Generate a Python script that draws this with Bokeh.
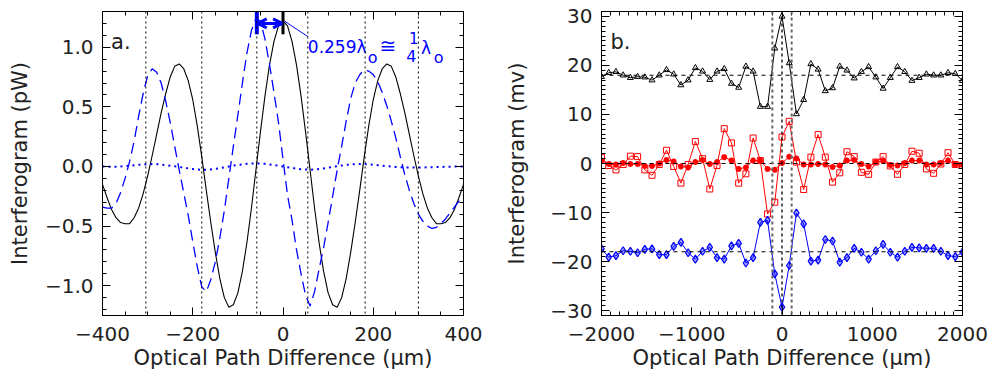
from bokeh.plotting import figure
from bokeh.layouts import row
from bokeh.models import FixedTicker, LinearAxis, Arrow, OpenHead, Span, CustomLabelingPolicy
from bokeh.core.properties import value
from bokeh.embed import file_html
from bokeh.resources import INLINE
import numpy as np

# ---------------- panel a ----------------
opd_a = list(range(-400, 401, 10))
ifg_a_black = [-0.15, -0.26, -0.36, -0.43, -0.47, -0.48, -0.48, -0.43, -0.35, -0.23,
               -0.08, 0.09, 0.27, 0.45, 0.61, 0.75, 0.84, 0.86, 0.82, 0.72,
               0.56, 0.34, 0.08, -0.20, -0.47, -0.72, -0.94, -1.10, -1.18, -1.16,
               -1.06, -0.88, -0.64, -0.35, -0.03, 0.29, 0.59, 0.85, 1.05, 1.18,
               1.22,
               1.18, 1.05, 0.85, 0.59, 0.29, -0.03, -0.35, -0.64, -0.88, -1.06,
               -1.16, -1.18, -1.10, -0.94, -0.72, -0.47, -0.20, 0.08, 0.34, 0.56,
               0.72, 0.82, 0.86, 0.84, 0.75, 0.61, 0.45, 0.27, 0.09, -0.08,
               -0.23, -0.35, -0.43, -0.48, -0.48, -0.47, -0.43, -0.36, -0.26, -0.15]
ifg_a_dashed = [-0.34, -0.35, -0.35, -0.31, -0.22, -0.10, 0.04, 0.21, 0.42, 0.61,
                0.76, 0.82, 0.79, 0.70, 0.55, 0.37, 0.17, -0.03, -0.22, -0.41,
                -0.63, -0.84, -1.01, -1.05, -0.95, -0.80, -0.60, -0.37, -0.10, 0.17,
                0.43, 0.70, 0.95, 1.14, 1.24, 1.22, 1.07, 0.86, 0.62, 0.37,
                0.06,
                -0.24, -0.45, -0.70, -0.90, -1.08, -1.17, -1.05, -0.86, -0.68, -0.47,
                -0.25, -0.03, 0.17, 0.38, 0.57, 0.70, 0.77, 0.81, 0.80, 0.77,
                0.71, 0.62, 0.51, 0.38, 0.24, 0.08, -0.07, -0.20, -0.31, -0.40,
                -0.46, -0.50, -0.52, -0.51, -0.48, -0.44, -0.39, -0.34, -0.29, -0.24]
ifg_a_dotted = [0.0, -0.002, -0.003, -0.002, 0.0, 0.003, 0.006, 0.010, 0.014, 0.017,
                0.019, 0.020, 0.019, 0.016, 0.012, 0.007, 0.002, -0.004, -0.010, -0.016,
                -0.021, -0.026, -0.028, -0.028, -0.025, -0.020, -0.014, -0.007, 0.0, 0.007,
                0.013, 0.018, 0.022, 0.025, 0.026, 0.025, 0.022, 0.017, 0.012, 0.006,
                0.0,
                -0.006, -0.012, -0.018, -0.023, -0.026, -0.027, -0.025, -0.021, -0.016, -0.010,
                -0.004, 0.002, 0.008, 0.013, 0.017, 0.019, 0.020, 0.020, 0.018, 0.015,
                0.011, 0.007, 0.003, -0.001, -0.004, -0.006, -0.008, -0.009, -0.009, -0.009,
                -0.008, -0.007, -0.006, -0.005, -0.004, -0.003, -0.002, -0.001, 0.0, 0.0]
crossings_a = [-304, -180, -58, 55, 182, 300]
quarter_wave_a = -58          # 0.259 lambda_o
xticks_a = [-400, -200, 0, 200, 400]
xlabels_a = ["\u2212400", "\u2212200", "0", "200", "400"]
yticks_a = [-1.0, -0.5, 0.0, 0.5, 1.0]
ylabels_a = ["\u22121.0", "\u22120.5", "0.0", "0.5", "1.0"]

# ---------------- panel b ----------------
opd_b = list(range(-2000, 2001, 80))
ifg_b_black = [17.7, 18.5, 18.7, 18.0, 17.5, 17.7, 17.6, 17.0, 18.0, 19.1,
               18.2, 16.0, 17.0, 19.5, 18.8, 17.1, 18.8, 19.3, 16.3, 15.5,
               19.8, 18.8, 11.6, 11.6, 23.5, 30.0, 20.5, 10.1, 13.0, 20.3,
               19.2, 14.8, 15.4, 19.8, 19.0, 17.4, 18.7, 19.7, 17.6, 15.3,
               17.5, 19.7, 18.7, 16.9, 17.5, 18.2, 18.0, 18.0, 18.5, 18.3, 16.9]
ifg_b_red_sq = [1.2, -0.4, -1.3, -0.2, 1.5, 1.4, -1.3, -2.4, -0.2, 2.7,
                -0.6, -4.0, -0.2, 4.5, 1.0, -5.2, -0.4, 7.1, 4.2, -4.0,
                -2.1, 5.2, 0.6, -10.3, -7.9, 5.4, 8.6, 0.3, -5.3, 1.3,
                5.9, 1.3, -3.8, -1.9, 2.4, 1.4, -1.8, -2.2, 0.3, 1.4,
                -0.5, -2.2, -0.2, 2.5, 2.1, -1.1, -2.0, -0.1, 2.2, -0.2, -0.4]
ifg_b_red_ast = [0.6, -0.1, -0.2, 0.1, -0.1, -0.1, -0.5, -0.5, 0.0, 0.7,
                 0.4, -0.6, -0.8, 0.3, 0.7, -0.1, 0.3, 1.3, 0.6, -1.1,
                 -0.8, 0.6, 0.6, -1.1, -1.3, 0.1, 1.4, 1.0, -0.2, -0.2,
                 -0.1, -0.2, -0.7, -0.4, 0.6, 0.7, -0.1, -0.6, 0.3, 0.5,
                 -0.3, -0.4, 0.1, 0.6, 0.6, -0.2, -0.2, 0.1, 0.6, -0.2, -0.3]
ifg_b_blue = [-17.4, -19.1, -18.8, -17.8, -17.9, -18.2, -17.5, -17.4, -18.6, -18.6,
              -16.9, -16.1, -18.2, -19.5, -17.9, -17.1, -19.2, -19.5, -16.8, -16.3,
              -20.3, -19.2, -12.0, -11.6, -22.5, -29.3, -20.8, -10.1, -12.3, -19.9,
              -19.7, -15.5, -15.8, -20.1, -19.2, -17.3, -18.1, -19.5, -17.8, -16.5,
              -18.1, -19.1, -17.9, -17.1, -17.2, -17.3, -17.3, -17.9, -18.8, -19.0, -18.1]
offsets_b = [18, 0, -18]
marks_b = [-107, 0, 107]
xticks_b = [-2000, -1000, 0, 1000, 2000]
xlabels_b = ["\u22122000", "\u22121000", "0", "1000", "2000"]
yticks_b = [-30, -20, -10, 0, 10, 20, 30]
ylabels_b = ["\u221230", "\u221220", "\u221210", "0", "10", "20", "30"]

FONT = "DejaVu Sans"
TXT = "#222222"
NO_LABELS = "for (const i of indices) indices.unset(i)"


def style(p, xt, xl, xminor, yt, yl, yminor, xlabel, ylabel, ylab_standoff, ytick_standoff):
    p.grid.visible = False
    p.outline_line_color = "black"
    p.background_fill_color = "white"
    p.border_fill_color = "white"
    p.xaxis.ticker = FixedTicker(ticks=xt, minor_ticks=xminor)
    p.yaxis.ticker = FixedTicker(ticks=yt, minor_ticks=yminor)
    p.xaxis.major_label_overrides = dict(zip(xt, xl))
    p.yaxis.major_label_overrides = dict(zip(yt, yl))
    p.xaxis.axis_label = xlabel
    p.yaxis.axis_label = ylabel
    p.xaxis.major_label_standoff = 11
    p.xaxis.axis_label_standoff = 2
    p.yaxis.major_label_standoff = ytick_standoff
    p.yaxis.axis_label_standoff = ylab_standoff
    for ax in list(p.xaxis) + list(p.yaxis):
        ax.major_tick_in = 8
        ax.major_tick_out = 0
        ax.minor_tick_in = 4
        ax.minor_tick_out = 0
        ax.axis_line_color = "black"
        ax.major_tick_line_color = "black"
        ax.minor_tick_line_color = "black"
        ax.major_label_text_font = FONT
        ax.major_label_text_font_size = "20px"
        ax.major_label_text_color = TXT
        ax.axis_label_text_font = FONT
        ax.axis_label_text_font_size = "21px"
        ax.axis_label_text_font_style = "normal"
        ax.axis_label_text_color = TXT
    for loc, ticks, minor in (("above", xt, xminor), ("right", yt, yminor)):
        ax = LinearAxis(ticker=FixedTicker(ticks=ticks, minor_ticks=minor),
                        major_tick_in=8, major_tick_out=0,
                        minor_tick_in=4, minor_tick_out=0,
                        major_label_policy=CustomLabelingPolicy(code=NO_LABELS),
                        major_label_standoff=0,
                        axis_line_color="black")
        p.add_layout(ax, loc)


# ---------------- build panel a ----------------
p1 = figure(width=495, height=380, x_range=(-400, 400), y_range=(-1.25, 1.30),
            output_backend="svg", toolbar_location=None,
            min_border_left=102, min_border_right=32, min_border_top=11, min_border_bottom=65)
style(p1, xticks_a, xlabels_a, list(np.arange(-400, 401, 50)),
      yticks_a, ylabels_a, list(np.round(np.arange(-1.2, 1.31, 0.1), 2)),
      "Optical Path Difference (\u03bcm)", "Interferogram (pW)", 10, 9)

for xc in crossings_a:
    p1.add_layout(Span(location=xc, dimension="height", line_color="black",
                       line_dash="2 3", line_width=1))
p1.line(opd_a, ifg_a_black, line_color="black", line_width=1.1)
p1.line(opd_a, ifg_a_dashed, line_color="blue", line_width=1.3, line_dash="11 6")
p1.line(opd_a, ifg_a_dotted, line_color="blue", line_width=2, line_dash="2 4")

# quarter-wave annotation
p1.segment(x0=[quarter_wave_a], y0=[1.11], x1=[quarter_wave_a], y1=[1.32],
           line_color="blue", line_width=4)
p1.segment(x0=[0], y0=[1.11], x1=[0], y1=[1.32], line_color="black", line_width=3)
p1.add_layout(Arrow(start=OpenHead(size=9, line_color="blue", line_width=3),
                    end=OpenHead(size=9, line_color="blue", line_width=3),
                    x_start=quarter_wave_a + 2, y_start=1.20, x_end=-2, y_end=1.20,
                    line_color="blue", line_width=3))
p1.segment(x0=[3], y0=[1.22], x1=[55], y1=[1.09], line_color="blue", line_width=1)
p1.text(x=[55], y=[1.0], text=["0.259\u03bb"], text_font=value(FONT),
        text_font_size="17px", text_color="blue", text_baseline="alphabetic")
p1.text(x=[188], y=[0.915], text=["o"], text_font=value(FONT),
        text_font_size="16px", text_color="blue", text_baseline="alphabetic")
p1.text(x=[214], y=[1.01], text=["\u2245"], text_font=value(FONT),
        text_font_size="20px", text_color="blue", text_baseline="alphabetic")
p1.text(x=[279], y=[1.075], text=["1"], text_font=value(FONT),
        text_font_size="15px", text_color="blue", text_baseline="alphabetic")
p1.text(x=[273], y=[0.93], text=["4"], text_font=value(FONT),
        text_font_size="16px", text_color="blue", text_baseline="alphabetic")
p1.text(x=[306], y=[0.99], text=["\u03bb"], text_font=value(FONT),
        text_font_size="17px", text_color="blue", text_baseline="alphabetic")
p1.text(x=[334], y=[0.915], text=["o"], text_font=value(FONT),
        text_font_size="16px", text_color="blue", text_baseline="alphabetic")
p1.text(x=[-381], y=[1.04], text=["a."], text_font=value(FONT),
        text_font_size="21px", text_color=TXT, text_baseline="alphabetic")

# ---------------- build panel b ----------------
p2 = figure(width=495, height=380, x_range=(-2000, 2000), y_range=(-31, 31),
            output_backend="svg", toolbar_location=None,
            min_border_left=106, min_border_right=28, min_border_top=11, min_border_bottom=65)
style(p2, xticks_b, xlabels_b, list(np.arange(-2000, 2001, 100)),
      yticks_b, ylabels_b, list(np.arange(-31, 32, 1)),
      "Optical Path Difference (\u03bcm)", "Interferogram (mv)", 18, 9)

for off in offsets_b:
    p2.add_layout(Span(location=off, dimension="width", line_color="black",
                       line_dash="4 4", line_width=1))
for xm in marks_b:
    if xm == 0:
        p2.add_layout(Span(location=xm, dimension="height", line_color="black",
                           line_dash="3 3", line_width=1.3))
    else:
        p2.add_layout(Span(location=xm, dimension="height", line_color="#666666",
                           line_dash="3 3", line_width=2))

p2.line(opd_b, ifg_b_black, line_color="black", line_width=1)
p2.scatter(opd_b, ifg_b_black, marker="triangle", size=6, line_color="black",
           fill_color=None, line_width=1)
p2.line(opd_b, ifg_b_red_sq, line_color="red", line_width=1)
p2.scatter(opd_b, ifg_b_red_sq, marker="square", size=6, line_color="red",
           fill_color=None, line_width=1)
p2.line(opd_b, ifg_b_red_ast, line_color="red", line_width=1)
p2.scatter(opd_b, ifg_b_red_ast, marker="asterisk", size=6, line_color="red",
           line_width=1.8)
p2.line(opd_b, ifg_b_blue, line_color="blue", line_width=1)
p2.scatter(opd_b, ifg_b_blue, marker="diamond", size=8, line_color="blue",
           fill_color="blue", fill_alpha=0.35, line_width=1.2)
p2.text(x=[-1900], y=[24.7], text=["b."], text_font=value(FONT),
        text_font_size="21px", text_color=TXT, text_baseline="alphabetic")

layout = row(p1, p2)
open("out.html", "w").write(file_html(layout, INLINE))
